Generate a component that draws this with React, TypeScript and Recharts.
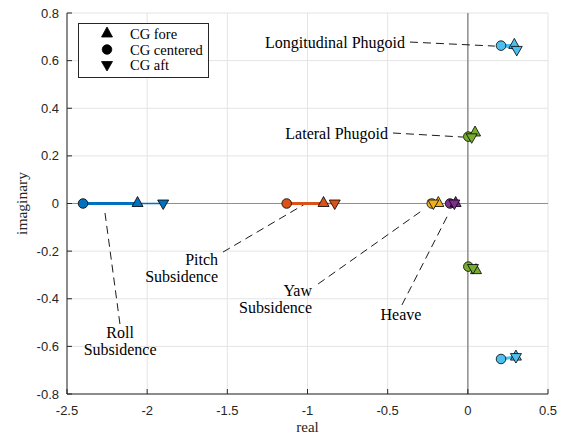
import {
  ComposedChart,
  Scatter,
  XAxis,
  YAxis,
  CartesianGrid,
  ReferenceLine,
  ReferenceDot,
  Legend,
  Label,
} from "recharts";

// poles per mode, one entry per branch (phugoids have a conjugate pair)
const modeColors = ["#0072BD", "#D95319", "#EDB120", "#7E2F8E", "#77AC30", "#77AC30", "#4DBEEE", "#4DBEEE"];
const centeredRe = [-2.4, -1.13, -0.225, -0.111, 0.003, 0.003, 0.207, 0.207];
const centeredIm = [0, 0, 0, 0, 0.281, -0.265, 0.663, -0.653];
const foreRe = [-2.06, -0.9, -0.184, -0.076, 0.045, 0.051, 0.29, 0.3];
const foreIm = [0, 0, 0, 0, 0.296, -0.282, 0.664, -0.645];
const aftRe = [-1.9, -0.83, -0.215, -0.084, 0.024, 0.032, 0.305, 0.3];
const aftIm = [0, 0, 0, 0, 0.278, -0.271, 0.645, -0.645];

const xTicks = [-2.5, -2, -1.5, -1, -0.5, 0, 0.5];
const yTicks = [-0.8, -0.6, -0.4, -0.2, 0, 0.2, 0.4, 0.6, 0.8];

// annotations: text anchor point and dashed leader (data coords)
const noteText = [["Longitudinal Phugoid"], ["Lateral Phugoid"], ["Pitch", "Subsidence"], ["Roll", "Subsidence"], ["Yaw", "Subsidence"], ["Heave"]];
const noteRe = [-0.392, -0.498, -1.558, -2.169, -0.972, -0.417];
const noteIm = [0.678, 0.296, -0.233, -0.54, -0.367, -0.464];
const noteAlign = ["end", "end", "end", "middle", "end", "middle"];
const leaderFrom = [[-0.361, 0.678], [-0.467, 0.296], [-1.527, -0.204], [-2.263, -0.04], [-0.934, -0.338], [-0.411, -0.426]];
const leaderTo = [[0.169, 0.661], [-0.03, 0.279], [-1.016, -0.002], [-2.169, -0.51], [-0.28, -0.027], [-0.124, -0.048]];

const serif = "Liberation Serif, DejaVu Serif, serif";
const sans = "Liberation Sans, Arial, sans-serif";

const toPoints = (re: number[], im: number[]) =>
  re.map((x, i) => ({ x, y: im[i], color: modeColors[i] }));

const centered = toPoints(centeredRe, centeredIm);
const fore = toPoints(foreRe, foreIm);
const aft = toPoints(aftRe, aftIm);

function triUp(cx: number, cy: number, fill: string) {
  return (
    <polygon
      points={`${cx},${cy - 7} ${cx - 5.5},${cy + 3} ${cx + 5.5},${cy + 3}`}
      fill={fill}
      stroke="#000"
      strokeWidth={0.8}
    />
  );
}

function triDown(cx: number, cy: number, fill: string) {
  return (
    <polygon
      points={`${cx - 5.5},${cy - 3.5} ${cx + 5.5},${cy - 3.5} ${cx},${cy + 6}`}
      fill={fill}
      stroke="#000"
      strokeWidth={0.8}
    />
  );
}

function dot(cx: number, cy: number, fill: string) {
  return <circle cx={cx} cy={cy} r={4.8} fill={fill} stroke="#000" strokeWidth={0.8} />;
}

const hidden = () => <g />;

function LegendBox() {
  const rows = [
    { label: "CG fore", mark: triUp },
    { label: "CG centered", mark: dot },
    { label: "CG aft", mark: triDown },
  ];
  return (
    <svg width={131} height={55}>
      <rect x={0.5} y={0.5} width={130} height={54} fill="#fff" stroke="#262626" strokeWidth={1} />
      {rows.map((r, i) => (
        <g key={r.label}>
          {r.mark(29, 11 + i * 15.5, "#000")}
          <text x={52} y={11 + i * 15.5} dy="0.35em" style={{ fontFamily: serif }} fontSize={14.5} fill="#000">
            {r.label}
          </text>
        </g>
      ))}
    </svg>
  );
}

function noteShape(lines: string[], anchor: string) {
  return (p: any) => (
    <text x={p.cx} y={p.cy} textAnchor={anchor} style={{ fontFamily: serif }} fontSize={16} fill="#000">
      {lines.map((s, i) => (
        <tspan key={i} x={p.cx} dy={i === 0 ? "0.35em" : 17}>
          {s}
        </tspan>
      ))}
    </text>
  );
}

export default function App() {
  return (
    <div style={{ position: "absolute", left: 0, top: 0 }}>
      <ComposedChart width={567} height={437} margin={{ top: 13, right: 19, bottom: 0, left: 0 }}>
        <CartesianGrid stroke="#e4e4e4" strokeWidth={1} />
        <XAxis
          type="number"
          dataKey="x"
          domain={[-2.5, 0.5]}
          ticks={xTicks}
          allowDataOverflow
          height={43}
          stroke="#262626"
          tickSize={-5}
          tickMargin={17}
          tick={{ fill: "#262626", fontFamily: sans, fontSize: 13 }}
        >
          <Label
            content={(p: any) => {
              const vb = p.viewBox;
              return (
                <text
                  x={vb.x + vb.width / 2}
                  y={vb.y + vb.height - 5}
                  textAnchor="middle"
                  style={{ fontFamily: serif }}
                  fontSize={15}
                  fill="#262626"
                >
                  real
                </text>
              );
            }}
          />
        </XAxis>
        <YAxis
          type="number"
          dataKey="y"
          domain={[-0.8, 0.8]}
          ticks={yTicks}
          allowDataOverflow
          width={67}
          stroke="#262626"
          tickSize={-5}
          tickMargin={13}
          tick={{ fill: "#262626", fontFamily: sans, fontSize: 13 }}
        >
          <Label
            content={(p: any) => {
              const vb = p.viewBox;
              const cx = vb.x + 22;
              const cy = vb.y + vb.height / 2;
              return (
                <text
                  x={cx}
                  y={cy}
                  transform={`rotate(-90 ${cx} ${cy})`}
                  textAnchor="middle"
                  dy="0.35em"
                  style={{ fontFamily: serif }}
                  fontSize={15.5}
                  fill="#262626"
                >
                  imaginary
                </text>
              );
            }}
          />
        </YAxis>
        <ReferenceLine x={0} stroke="#8f8f8f" strokeWidth={1.5} />
        <ReferenceLine y={0} stroke="#8f8f8f" strokeWidth={1.2} />

        {leaderFrom.map((a, i) => (
          <ReferenceLine
            key={`lead-${i}`}
            segment={[
              { x: a[0], y: a[1] },
              { x: leaderTo[i][0], y: leaderTo[i][1] },
            ]}
            stroke="#000"
            strokeWidth={0.9}
            strokeDasharray="8 5"
          />
        ))}
        {noteText.map((lines, i) => (
          <ReferenceDot
            key={`note-${i}`}
            x={noteRe[i]}
            y={noteIm[i]}
            r={0}
            shape={noteShape(lines, noteAlign[i])}
          />
        ))}

        {centered.map((c, i) => (
          <Scatter
            key={`thin-${i}`}
            data={[c, aft[i]]}
            line={{ stroke: modeColors[i], strokeWidth: 1.5 }}
            shape={hidden}
            legendType="none"
            isAnimationActive={false}
          />
        ))}
        {centered.map((c, i) => (
          <Scatter
            key={`thick-${i}`}
            data={[c, fore[i]]}
            line={{ stroke: modeColors[i], strokeWidth: 3 }}
            shape={hidden}
            legendType="none"
            isAnimationActive={false}
          />
        ))}

        <Scatter
          name="CG centered"
          data={centered}
          shape={(p: any) => dot(p.cx, p.cy, p.payload.color)}
          isAnimationActive={false}
        />
        <Scatter
          name="CG fore"
          data={fore}
          shape={(p: any) => triUp(p.cx, p.cy, p.payload.color)}
          isAnimationActive={false}
        />
        <Scatter
          name="CG aft"
          data={aft}
          shape={(p: any) => triDown(p.cx, p.cy, p.payload.color)}
          isAnimationActive={false}
        />

        <Legend
          layout="vertical"
          align="center"
          verticalAlign="middle"
          content={() => <LegendBox />}
          wrapperStyle={{ left: 78, top: 23, width: 131, height: 55 }}
        />
      </ComposedChart>
    </div>
  );
}
